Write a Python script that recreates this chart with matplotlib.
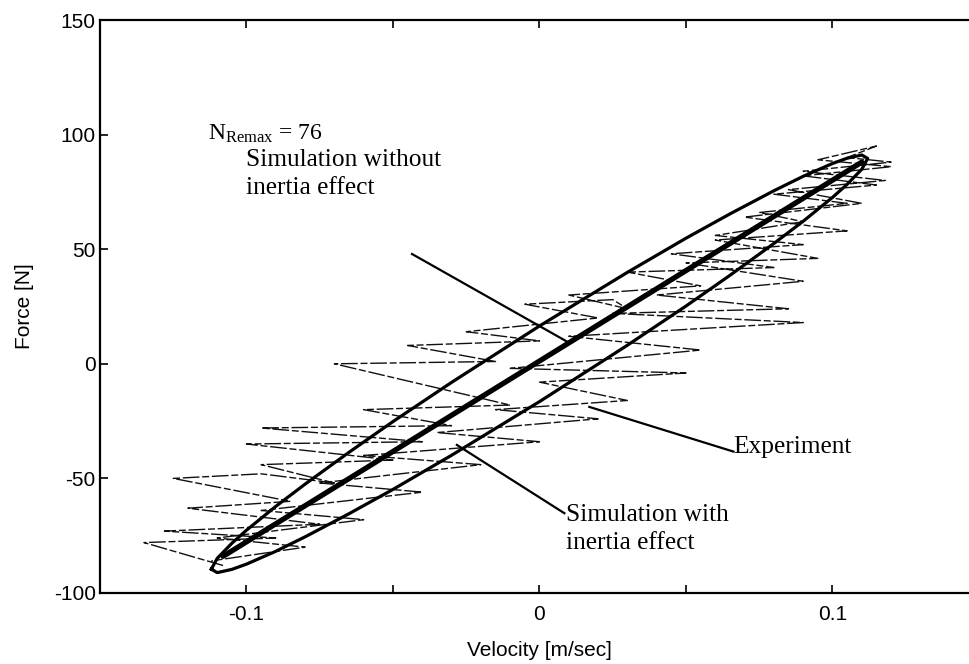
import matplotlib
matplotlib.use('Agg')

import numpy as np
import matplotlib.pyplot as plt

plt.rcParams['font.family'] = ['Liberation Sans', 'DejaVu Sans']
plt.rcParams['axes.unicode_minus'] = False
plt.rcParams['mathtext.fontset'] = 'custom'
plt.rcParams['mathtext.rm'] = 'Liberation Serif'
plt.rcParams['mathtext.it'] = 'Liberation Serif:italic'

# simulated loop with inertia (upper / lower branch share the velocity points)
sim_v = [-0.112, -0.110, -0.105, -0.100, -0.090, -0.080, -0.065, -0.050, -0.030, 0.000,
         0.030, 0.050, 0.065, 0.080, 0.090, 0.100, 0.105, 0.110, 0.112]
sim_upper = [-89.6, -84.9, -78.3, -72.6, -62.2, -52.5, -38.6, -25.2, -8.1, 16.5,
             39.9, 54.8, 65.4, 75.5, 81.8, 87.4, 89.7, 91.1, 89.6]
sim_lower = [-89.6, -91.1, -89.7, -87.4, -81.8, -75.5, -65.4, -54.8, -39.9, -16.5,
             8.1, 25.2, 38.6, 52.5, 62.2, 72.6, 78.3, 84.9, 89.6]

# simulation without inertia
noinert_v = [-0.108, 0.110]
noinert_f = [-84.0, 88.0]

# measured force / velocity
exp_v = [-0.108, -0.135, -0.090, -0.128, -0.075, -0.120, -0.085, -0.125, -0.095, -0.070,
         -0.095, -0.050, -0.100, -0.040, -0.095, -0.030, -0.060, -0.010, -0.070, -0.015,
         -0.045, 0.000, -0.025, 0.020, -0.005, 0.025, 0.030, 0.010, 0.055, 0.030,
         0.080, 0.045, 0.090, 0.060, 0.090, 0.075, 0.105, 0.080, 0.115, 0.090,
         0.120, 0.095, 0.115, 0.105,
         0.120, 0.090, 0.118, 0.085, 0.110, 0.070, 0.105, 0.060, 0.095, 0.050,
         0.090, 0.040, 0.085, 0.025, 0.090, 0.010, 0.055, -0.010, 0.050, 0.000,
         0.030, -0.015, 0.020, -0.035, 0.000, -0.060, -0.020, -0.075, -0.040, -0.095,
         -0.060, -0.110, -0.080, -0.112]
exp_f = [-88, -78, -76, -73, -70, -63, -60, -50, -48, -52,
         -44, -42, -35, -34, -28, -27, -20, -18, 0, 1,
         8, 10, 14, 20, 26, 28, 24, 30, 34, 40,
         42, 48, 52, 56, 62, 66, 70, 74, 78, 82,
         86, 89, 95, 90,
         88, 84, 80, 76, 70, 64, 58, 54, 46, 44,
         36, 30, 24, 22, 18, 12, 6, -2, -4, -8,
         -16, -20, -24, -30, -34, -40, -44, -52, -56, -64,
         -68, -76, -80, -86]

xticks = [-0.15, -0.1, -0.05, 0, 0.05, 0.1, 0.15]
xticklabels = ['', '-0.1', '', '0', '', '0.1', '']
yticks = [-100, -50, 0, 50, 100, 150]

fig = plt.figure(figsize=(9.7, 6.64), dpi=100)
ax = fig.add_axes([100 / 970, 71 / 664, 879 / 970, 573 / 664])

ax.plot(exp_v, exp_f, color='#111111', lw=1.0, ls=(0, (12, 2, 5, 2)))

loop_v = sim_v + sim_v[::-1]
loop_f = sim_upper + sim_lower[::-1]
ax.plot(loop_v, loop_f, color='black', lw=2.3, solid_joinstyle='round')
ax.plot(noinert_v, noinert_f, color='black', lw=3.8, solid_capstyle='round')

ax.set_xlim(-0.15, 0.15)
ax.set_ylim(-100, 150)
ax.set_xticks(xticks)
ax.set_xticklabels(xticklabels)
ax.set_yticks(yticks)
ax.tick_params(direction='in', top=True, right=True, length=6, width=1.2,
               labelsize=15)
ax.tick_params(axis='x', pad=9)
ax.tick_params(axis='y', pad=3)
for sp in ax.spines.values():
    sp.set_linewidth(1.6)

ax.set_xlabel('Velocity [m/sec]', fontsize=15, labelpad=12)
ax.set_ylabel('Force [N]', fontsize=15, labelpad=14)

serif = 'Liberation Serif'
ax.text(-0.113, 100.5, r'$\mathrm{N_{Remax}}$ = 76', family=serif, fontsize=17,
        va='center', ha='left')

ax.text(-0.1002, 83, 'Simulation without\ninertia effect', family=serif, fontsize=18.3,
        va='center', ha='left', linespacing=1.35)
ax.plot([-0.0435, 0.0102], [47.9, 9.1], color='black', lw=1.6)

ax.text(0.0662, -36.5, 'Experiment', family=serif, fontsize=18.3,
        va='center', ha='left')
ax.plot([0.017, 0.0662], [-18.8, -38.3], color='black', lw=1.6)

ax.text(0.009, -72, 'Simulation with\ninertia effect', family=serif, fontsize=18.3,
        va='center', ha='left', linespacing=1.35)
ax.plot([-0.0282, 0.0085], [-35.4, -65.2], color='black', lw=1.6)

plt.savefig('out.png', dpi=100)
plt.close(fig)
